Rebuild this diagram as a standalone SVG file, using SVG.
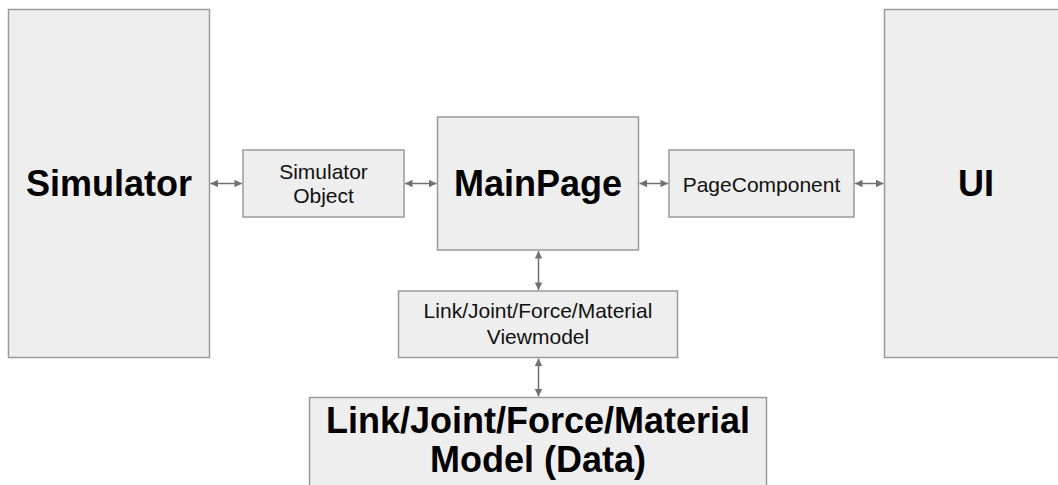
<svg xmlns="http://www.w3.org/2000/svg" width="1058" height="485" viewBox="0 0 1058 485">
  <style>
    .box { fill: #eeeeee; stroke: #9a9a9a; stroke-width: 1.5; }
    .big { font-family: "Liberation Sans", Arial, sans-serif; font-weight: bold; font-size: 36px; fill: #000; text-anchor: middle; }
    .small { font-family: "Liberation Sans", Arial, sans-serif; font-size: 21px; fill: #111; text-anchor: middle; }
    .link { stroke: #707070; stroke-width: 1.5; fill: none; marker-start: url(#head); marker-end: url(#head); }
  </style>
  <defs>
    <marker id="head" viewBox="0 0 10 10" refX="10" refY="5" markerWidth="9" markerHeight="7.5" markerUnits="userSpaceOnUse" orient="auto-start-reverse">
      <path d="M0,0 L10,5 L0,10 z" fill="#707070"/>
    </marker>
  </defs>
  <rect width="1058" height="485" fill="#ffffff"/>

  <g id="simulator">
    <rect class="box" x="8.5" y="9.5" width="201" height="348"/>
    <text class="big" x="109" y="196">Simulator</text>
  </g>

  <g id="simulator-object">
    <rect class="box" x="243" y="150" width="161" height="67"/>
    <text class="small" x="323.5" y="179">Simulator</text>
    <text class="small" x="323.5" y="203">Object</text>
  </g>

  <g id="main-page">
    <rect class="box" x="437.5" y="117" width="201" height="133"/>
    <text class="big" x="538" y="196">MainPage</text>
  </g>

  <g id="page-component">
    <rect class="box" x="669" y="150" width="185" height="67"/>
    <text class="small" x="761.5" y="191.5">PageComponent</text>
  </g>

  <g id="ui">
    <rect class="box" x="884.5" y="9.5" width="190" height="348"/>
    <text class="big" x="976" y="196">UI</text>
  </g>

  <g id="viewmodel">
    <rect class="box" x="398.5" y="291" width="279" height="66.5"/>
    <text class="small" x="538" y="318">Link/Joint/Force/Material</text>
    <text class="small" x="538" y="344">Viewmodel</text>
  </g>

  <g id="model">
    <rect class="box" x="309.5" y="397.5" width="457" height="100"/>
    <text class="big" x="538" y="433">Link/Joint/Force/Material</text>
    <text class="big" x="538" y="472">Model (Data)</text>
  </g>

  <g id="connectors">
    <line class="link" x1="210.5" y1="183.5" x2="242" y2="183.5"/>
    <line class="link" x1="405" y1="183.5" x2="436.5" y2="183.5"/>
    <line class="link" x1="639.5" y1="183.5" x2="668" y2="183.5"/>
    <line class="link" x1="855" y1="183.5" x2="883.5" y2="183.5"/>
    <line class="link" x1="538.5" y1="251" x2="538.5" y2="290"/>
    <line class="link" x1="538.5" y1="358.5" x2="538.5" y2="396.5"/>
  </g>
</svg>
